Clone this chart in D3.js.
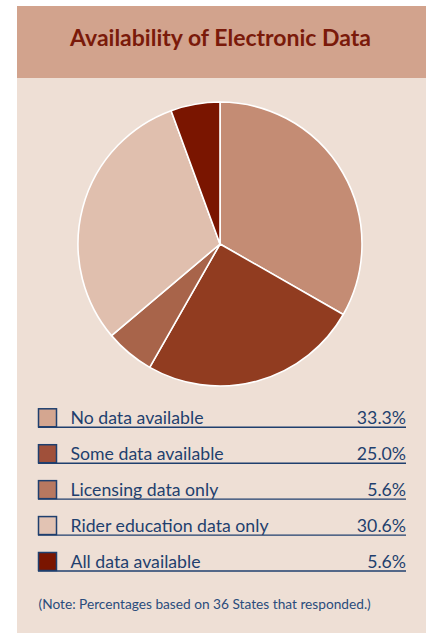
<!DOCTYPE html>
<html>
<head>
<meta charset="utf-8">
<script src="https://cdn.jsdelivr.net/npm/d3@7"></script>
<style>
  body { margin: 0; background: #fff; }
  svg { display: block; }
</style>
</head>
<body>
<div id="chart"></div>
<script>
const categories = ["No data available", "Some data available", "Licensing data only", "Rider education data only", "All data available"];
const values = [33.3, 25.0, 5.6, 30.6, 5.6];
const valueLabels = ["33.3%", "25.0%", "5.6%", "30.6%", "5.6%"];
const sliceColors = ["#c48c74", "#913c20", "#a8644a", "#e0bfae", "#7a1500"];
const swatchColors = ["#d4a690", "#a0503a", "#b87860", "#e2c3b3", "#7a1500"];

const width = 426, height = 633;
const blue = "#1f3f6e";
const font = "Lato, 'Open Sans', sans-serif";

const svg = d3.select("#chart").append("svg")
  .attr("width", width)
  .attr("height", height);

// panel + header band
svg.append("rect").attr("x", 17).attr("y", 6).attr("width", width - 17).attr("height", height - 6)
  .attr("fill", "#eedfd5");
svg.append("rect").attr("x", 17).attr("y", 6).attr("width", width - 17).attr("height", 72)
  .attr("fill", "#d2a38d");
svg.append("text")
  .attr("x", 220.5).attr("y", 45.5)
  .attr("text-anchor", "middle")
  .attr("font-family", font)
  .attr("font-weight", "bold")
  .attr("font-size", 23)
  .attr("fill", "#7a1a0a")
  .text("Availability of Electronic Data");

// pie
const radius = 142;
const pie = d3.pie().sort(null).value(d => d);
const arc = d3.arc().innerRadius(0).outerRadius(radius);
const color = d3.scaleOrdinal().domain(categories).range(sliceColors);

const pieGroup = svg.append("g").attr("transform", "translate(220,244)");
pieGroup.selectAll("path")
  .data(pie(values))
  .enter()
  .append("path")
  .attr("d", arc)
  .attr("fill", (d, i) => color(categories[i]))
  .attr("stroke", "#fff")
  .attr("stroke-width", 1.6)
  .attr("stroke-linejoin", "round");

// legend, one row every ~36px, underline is the row's baseline
const lineY = d3.scalePoint().domain(categories).range([427.3, 571]);

const rows = svg.append("g").selectAll("g.row")
  .data(categories)
  .enter()
  .append("g")
  .classed("row", true);

rows.append("rect")
  .attr("x", 38.5).attr("y", d => lineY(d) - 18.5)
  .attr("width", 18).attr("height", 18)
  .attr("fill", (d, i) => swatchColors[i])
  .attr("stroke", blue)
  .attr("stroke-width", 1.5);

rows.append("line")
  .attr("x1", 38).attr("x2", 406)
  .attr("y1", d => lineY(d)).attr("y2", d => lineY(d))
  .attr("stroke", blue)
  .attr("stroke-width", 1.4);

rows.append("text")
  .attr("x", 70.5).attr("y", d => lineY(d) - 3.5)
  .attr("font-family", font)
  .attr("font-size", 17.7)
  .attr("fill", blue)
  .text(d => d);

rows.append("text")
  .attr("x", 406).attr("y", d => lineY(d) - 3.5)
  .attr("text-anchor", "end")
  .attr("font-family", font)
  .attr("font-size", 17.7)
  .attr("fill", blue)
  .text((d, i) => valueLabels[i]);

svg.append("text")
  .attr("x", 38.5).attr("y", 609)
  .attr("font-family", font)
  .attr("font-size", 13.7)
  .attr("fill", "#2a4c7c")
  .text("(Note: Percentages based on 36 States that responded.)");
</script>
</body>
</html>
